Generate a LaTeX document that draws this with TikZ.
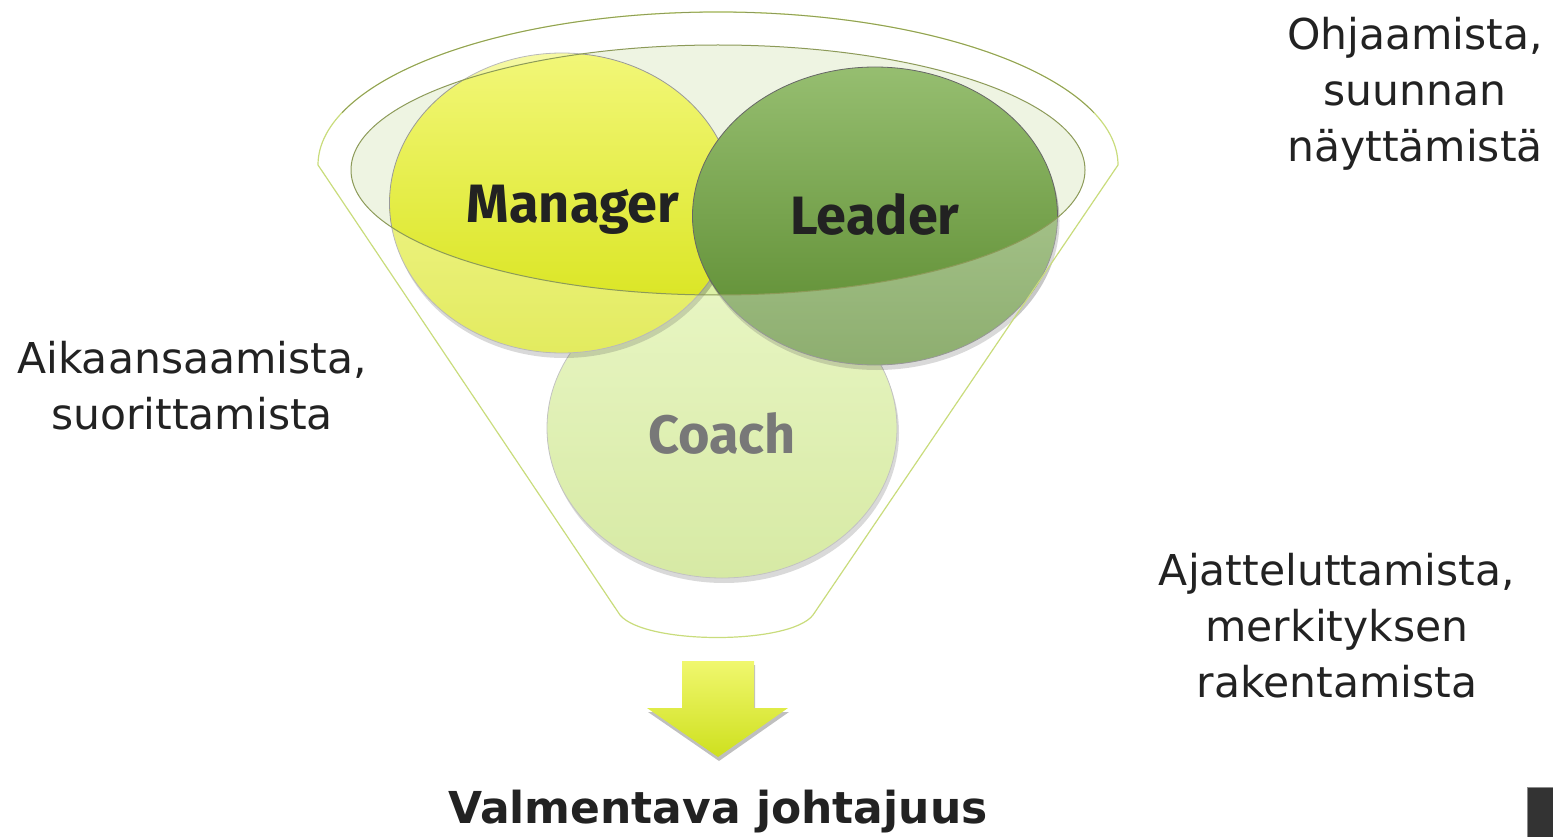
\documentclass[tikz,border=0pt]{standalone}
\usepackage{fontspec}
\setmainfont{DejaVu Sans}
\newfontfamily\firabold{Fira Sans}[UprightFont=* Bold]
\usetikzlibrary{shapes.geometric,shadows}
\definecolor{txt}{HTML}{222222}
\definecolor{rimline}{HTML}{8C9A58}
\definecolor{funnelline}{HTML}{C9DC7C}
\definecolor{rimfill}{HTML}{EEF4E2}
\begin{document}
\begin{tikzpicture}[x=1pt,y=-1pt,
  ball/.style={ellipse,draw=#1,line width=0.8pt,
    drop shadow={shadow xshift=2pt,shadow yshift=-5pt,opacity=0.22,fill=black}},
  lbl/.style={text=txt,align=center,font=\fontsize{42.5}{56}\selectfont},
  big/.style={text=txt,anchor=base,font=\fontsize{54}{56}\firabold}]
\useasboundingbox (0,0) rectangle (1553,837);
% rim interior tint
\fill[rimfill] (718,170) ellipse[x radius=367, y radius=125];
% circles
\node[ball=gray!70, top color={rgb,255:red,222;green,242;blue,168}, bottom color={rgb,255:red,196;green,224;blue,122},
  minimum width=350pt, minimum height=300pt, inner sep=0pt] (coachball) at (722,428) {};
\node[ball=gray!80, top color={rgb,255:red,242;green,247;blue,120}, bottom color={rgb,255:red,214;green,226;blue,20},
  minimum width=345pt, minimum height=300pt, inner sep=0pt] (managerball) at (562,203) {};
\node[ball=black!60, top color={rgb,255:red,150;green,190;blue,112}, bottom color={rgb,255:red,88;green,136;blue,44},
  minimum width=365pt, minimum height=298pt, inner sep=0pt] (leaderball) at (875,216) {};
% funnel body overlay (front, translucent) excluding rim
\fill[white, opacity=0.32, even odd rule]
  (318,165) arc[start angle=180, end angle=360, x radius=400, y radius=153]
  -- (813,615) .. controls (790,645) and (645,645) .. (620,615) -- cycle
  (718,170) ellipse[x radius=367, y radius=125];
% funnel outline
\draw[funnelline, line width=1.2pt]
  (318,165) arc[start angle=180, end angle=360, x radius=400, y radius=153]
  -- (813,615) .. controls (790,645) and (645,645) .. (620,615) -- cycle;
\draw[rimline, line width=0.8pt]
  (342.1,112.7) arc[start angle=200, end angle=340, x radius=400, y radius=153];
\draw[rimline, line width=1pt] (718,170) ellipse[x radius=367, y radius=125];
% texts in circles
\node[big] (manager) at (573,223) {Manager};
\node[big] (leader) at (875,235) {Leader};
\node[big, text={rgb,255:red,120;green,120;blue,120}] (coach) at (722,453) {Coach};
% arrow
\path[top color={rgb,255:red,240;green,247;blue,110}, bottom color={rgb,255:red,206;green,224;blue,30},
  drop shadow={shadow xshift=1pt,shadow yshift=-4pt,opacity=0.25,fill=black}]
  (682,661) -- (754,661) -- (754,708) -- (788,708) -- (718,757) -- (647,708) -- (682,708) -- cycle;
\node[text=txt, anchor=base, font=\fontsize{44}{46}\selectfont\bfseries] (result) at (718,823) {Valmentava johtajuus};
% side labels
\node[lbl] (left) at (192,386) {Aikaansaamista,\\suorittamista};
\node[lbl] (topright) at (1415,94) {Ohjaamista,\\suunnan\\näyttämistä};
\node[lbl] (bottomright) at (1337,626) {Ajatteluttamista,\\merkityksen\\rakentamista};
% corner block
\fill[black!80] (1527,787) rectangle (1553,837);
\draw[black!45, line width=1pt] (1527,837) -- (1527,787) -- (1553,787);
\end{tikzpicture}
\end{document}
